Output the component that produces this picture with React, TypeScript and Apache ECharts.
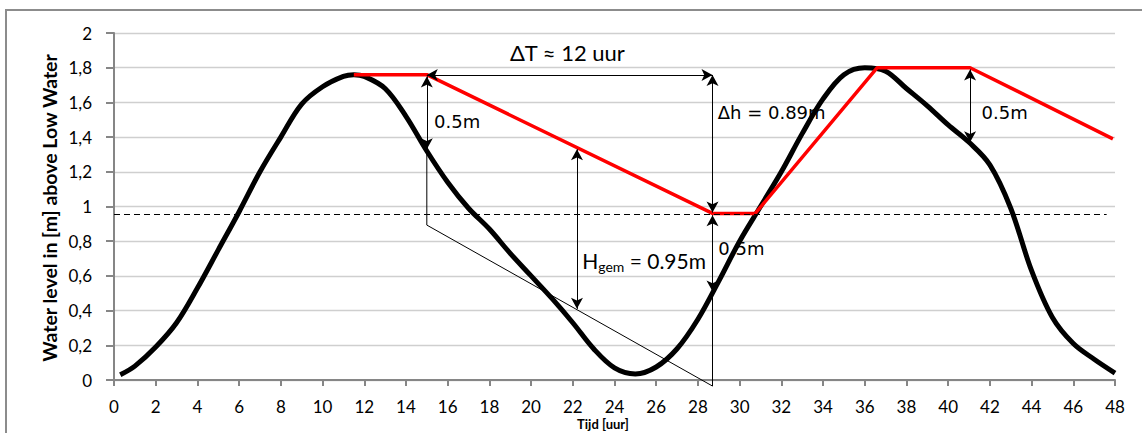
import React, { useEffect, useRef } from "react";
import * as echarts from "echarts";

// Measured tide curve (time in hours, level in m above Low Water)
const tideTime = [0.3, 1, 2, 3, 4, 5, 6, 7, 8, 9, 10, 11, 11.5, 12, 13, 14, 15, 16, 17, 18, 19, 20, 21, 22, 23, 24, 25, 26, 27, 28, 29, 30, 31, 32, 33, 34, 35, 36, 37, 38, 39, 40, 41, 42, 43, 44, 45, 46, 47, 48];
const tideLevel = [0.03, 0.08, 0.19, 0.33, 0.53, 0.75, 0.97, 1.2, 1.4, 1.59, 1.69, 1.75, 1.76, 1.75, 1.68, 1.52, 1.32, 1.14, 0.99, 0.87, 0.73, 0.6, 0.47, 0.33, 0.18, 0.07, 0.035, 0.075, 0.18, 0.35, 0.57, 0.8, 1.0, 1.2, 1.42, 1.62, 1.76, 1.8, 1.78, 1.68, 1.58, 1.47, 1.37, 1.24, 0.99, 0.63, 0.36, 0.21, 0.12, 0.04];

// Schematised (red) line
const redTime = [11.5, 15, 28.7, 30.75, 36.6, 41.05, 47.9];
const redLevel = [1.76, 1.76, 0.96, 0.96, 1.8, 1.8, 1.39];

// Thin construction line (no arrows)
const helperTime = [15, 15, 28.7, 28.7];
const helperLevel = [1.33, 0.893, -0.035, 0.5];

// Double arrows: [t1, v1, t2, v2]
const arrows: number[][] = [
  [15, 1.758, 28.7, 1.758],
  [28.7, 1.758, 28.7, 0.965],
  [28.7, 0.95, 28.7, 0.51],
  [15, 1.75, 15, 1.33],
  [22.2, 1.33, 22.2, 0.41],
  [41.05, 1.79, 41.05, 1.37],
];

const dashedLevel = 0.957;
const dashedEnd = 47.6;

const yTickLabels = ["0", "0,2", "0,4", "0,6", "0,8", "1", "1,2", "1,4", "1,6", "1,8", "2"];

// Annotation texts: [t, v, text, font]
const notes: [number, number, string, string][] = [
  [21.74, 1.885, "ΔT ≈ 12 uur", "center"],
  [28.95, 1.54, "Δh = 0.89m", "dv"],
  [15.35, 1.49, "0.5m", "dv"],
  [28.98, 0.76, "0.5m", "dv"],
  [41.6, 1.54, "0.5m", "dv"],
  [22.45, 0.69, "{a|H}{s|gem}{a| = 0.95m}", "hgem"],
];

export default function App() {
  const ref = useRef<HTMLDivElement>(null);
  useEffect(() => {
    if (!ref.current) return;
    const chart = echarts.init(ref.current, undefined, { renderer: "svg" });
    const tide = tideTime.map((t, i) => [t, tideLevel[i]]);
    const red = redTime.map((t, i) => [t, redLevel[i]]);
    const helper = helperTime.map((t, i) => [t, helperLevel[i]]);

    const markPoints = notes.map(([t, v, txt, kind]) => {
      const base: any = {
        coord: [t, v],
        symbol: "rect",
        symbolSize: 1,
        itemStyle: { color: "rgba(0,0,0,0)" },
        label: {
          show: true,
          position: "inside",
          formatter: txt,
          color: "#000",
          align: kind === "center" ? "center" : "left",
          verticalAlign: "middle",
        },
      };
      if (kind === "center") {
        base.label.fontFamily = "Lato";
        base.label.fontSize = 22;
      } else if (kind === "dv") {
        base.label.fontFamily = "DejaVu Sans";
        base.label.fontSize = 18;
      } else {
        base.label.rich = {
          a: { fontFamily: "Lato", fontSize: 21, lineHeight: 26, color: "#000" },
          s: { fontFamily: "Lato", fontSize: 14, lineHeight: 14, verticalAlign: "bottom", color: "#000" },
        };
      }
      return base;
    });

    chart.setOption({
      animation: false,
      grid: { left: 114, right: 27, top: 33, bottom: 53 },
      xAxis: {
        type: "value",
        min: 0,
        max: 48,
        interval: 2,
        axisLine: { show: true, lineStyle: { color: "#868686", width: 2 } },
        axisTick: { show: true, length: 6, lineStyle: { color: "#868686", width: 2 } },
        axisLabel: { color: "#000", fontFamily: "Lato", fontSize: 17, margin: 18 },
        splitLine: { show: false },
      },
      yAxis: {
        type: "value",
        min: 0,
        max: 2,
        interval: 0.2,
        axisLine: { show: true, lineStyle: { color: "#868686", width: 2 } },
        axisTick: { show: true, length: 8, lineStyle: { color: "#868686", width: 2 } },
        axisLabel: {
          color: "#000",
          fontFamily: "Lato",
          fontSize: 17,
          margin: 22,
          formatter: (v: number) => yTickLabels[Math.round(v / 0.2)],
        },
        splitLine: { show: true, lineStyle: { color: "#cfcfcf", width: 1.3 } },
      },
      graphic: [
        {
          type: "rect",
          shape: { x: 6, y: 10, width: 1300, height: 600 },
          style: { fill: "none", stroke: "#8c8c8c", lineWidth: 2 },
          silent: true,
        },
        {
          type: "text",
          x: 49,
          y: 208,
          rotation: Math.PI / 2,
          style: {
            text: "Water level in [m] above Low Water",
            fontFamily: "Lato",
            fontWeight: "bold",
            fontSize: 19.5,
            fill: "#000",
            align: "center",
            verticalAlign: "middle",
          },
        },
        {
          type: "text",
          x: 603,
          y: 424,
          style: {
            text: "Tijd [uur]",
            fontFamily: "Lato",
            fontWeight: "bold",
            fontSize: 13,
            fill: "#000",
            align: "center",
            verticalAlign: "middle",
          },
        },
      ],
      series: [
        {
          name: "tide",
          type: "line",
          data: tide,
          smooth: 0.35,
          symbol: "none",
          lineStyle: { color: "#000", width: 5 },
          z: 2,
        },
        {
          name: "schematised",
          type: "line",
          data: red,
          symbol: "none",
          lineStyle: { color: "#ff0000", width: 3.5 },
          z: 3,
        },
        {
          name: "helper",
          type: "line",
          data: helper,
          symbol: "none",
          clip: false,
          lineStyle: { color: "#000", width: 1 },
          z: 4,
        },
        {
          name: "annotations",
          type: "line",
          data: [],
          symbol: "none",
          z: 5,
          markLine: {
            silent: true,
            animation: false,
            label: { show: false },
            emphasis: { disabled: true },
            data: [
              ...arrows.map((a) => [
                { coord: [a[0], a[1]], symbol: "arrow", symbolSize: [9, 11] },
                { coord: [a[2], a[3]], symbol: "arrow", symbolSize: [9, 11] },
              ]),
              [
                { coord: [0, dashedLevel], symbol: "none" },
                { coord: [dashedEnd, dashedLevel], symbol: "none" },
              ],
            ].map((pair: any, i: number) => {
              const isDash = i === arrows.length;
              pair[0].lineStyle = {
                color: "#000",
                width: 1,
                type: isDash ? [6, 4] : "solid",
              };
              return pair;
            }),
            lineStyle: { color: "#000", width: 1, type: "solid" },
            itemStyle: { color: "#000" },
          },
          markPoint: {
            silent: true,
            animation: false,
            data: markPoints,
          },
        },
      ],
    });
    return () => chart.dispose();
  }, []);
  return (
    <div
      ref={ref}
      style={{ position: "absolute", left: 0, top: 0, width: 1142, height: 433, background: "#fff" }}
    />
  );
}
